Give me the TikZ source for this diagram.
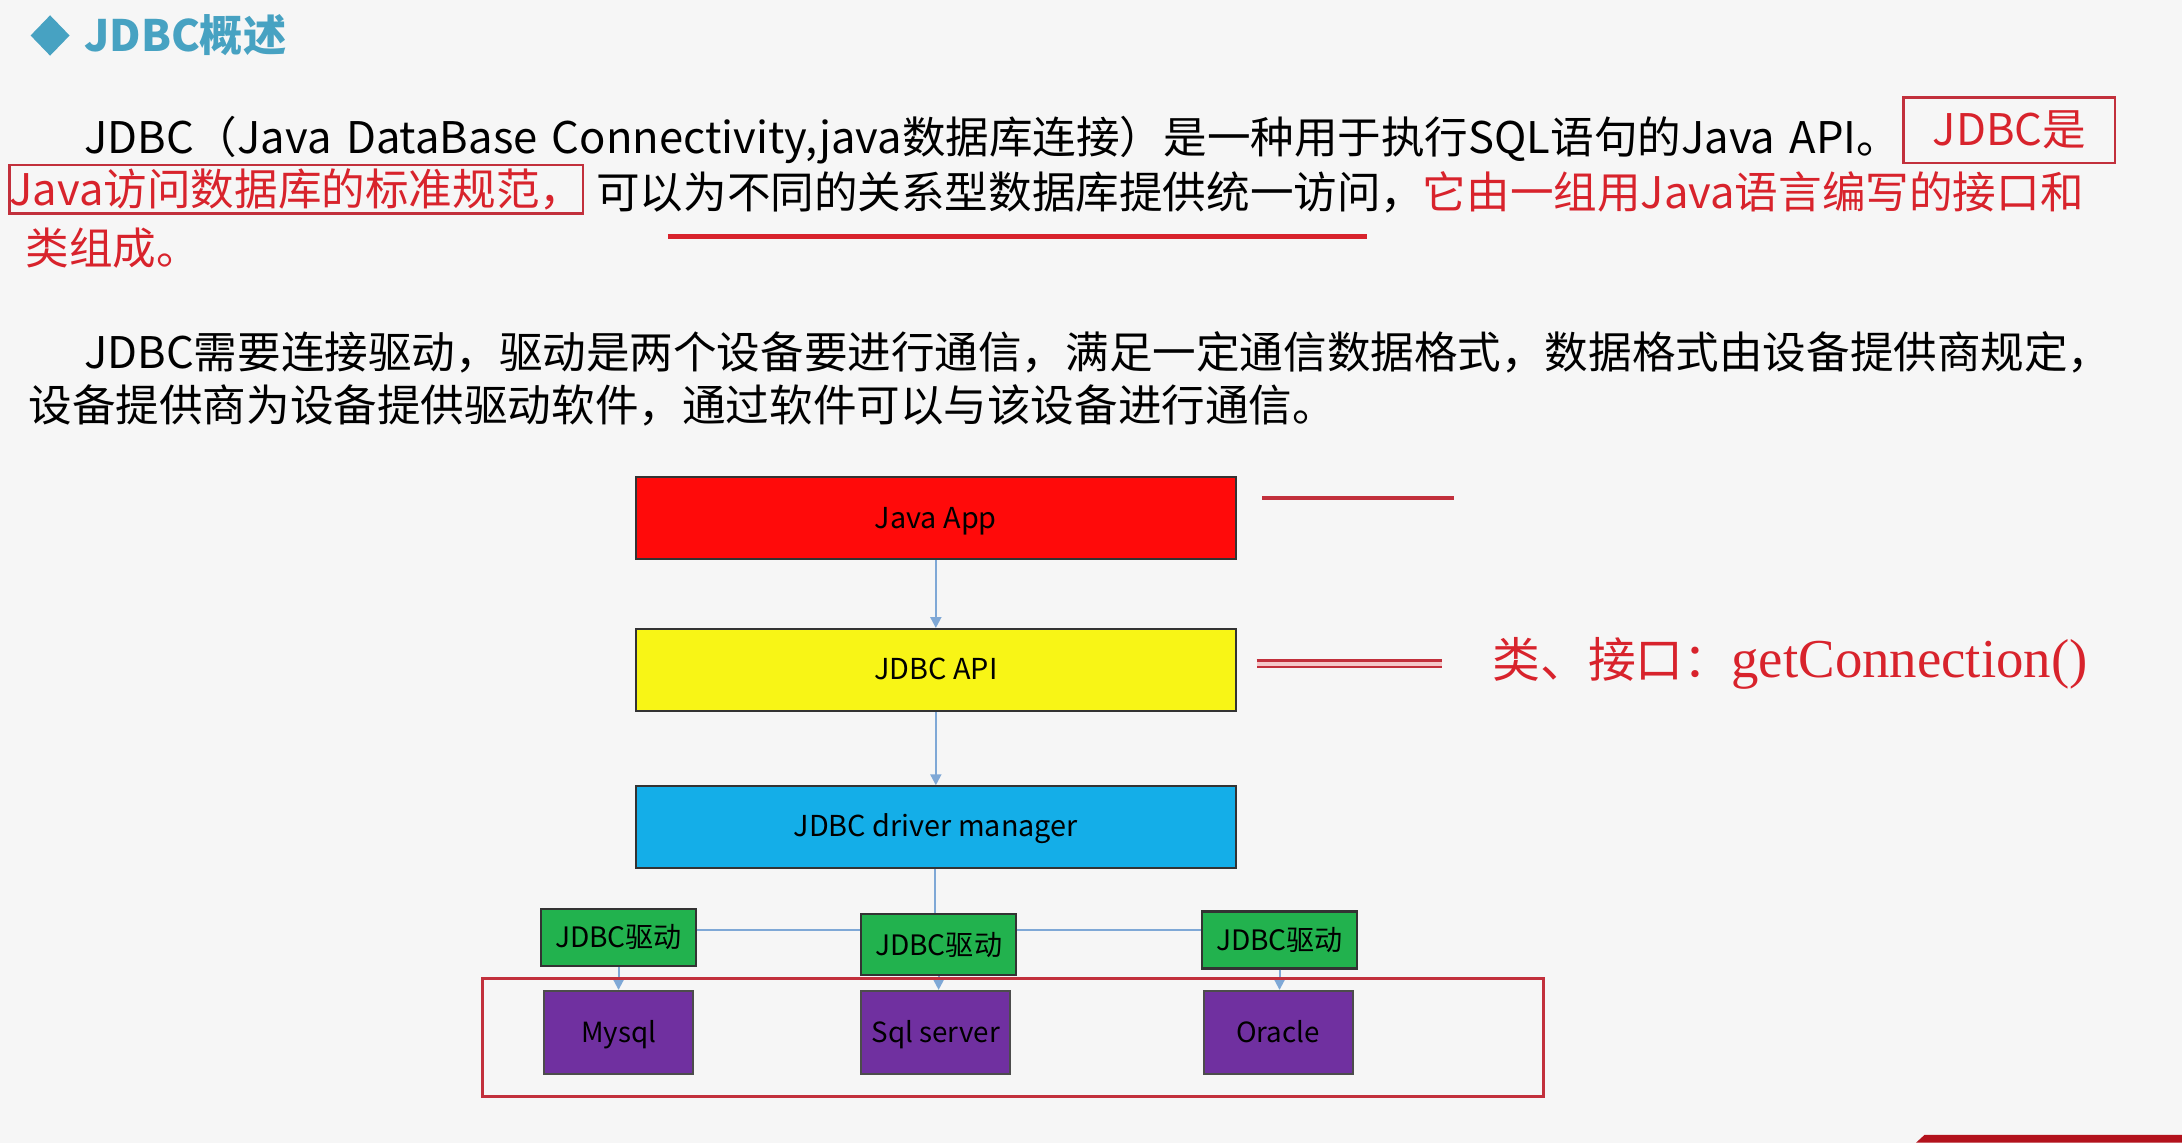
\documentclass[tikz,border=0pt]{standalone}
\usepackage{fontspec}
\newfontfamily\cjk{Noto Sans CJK SC}
\newfontfamily\serifen{Liberation Serif}
\usetikzlibrary{arrows.meta,calc}

\definecolor{slidebg}{HTML}{F6F6F6}
\definecolor{titleblue}{HTML}{47A2C2}
\definecolor{notered}{HTML}{D8232C}
\definecolor{boxred}{HTML}{C2303C}
\definecolor{appred}{HTML}{FF0A0A}
\definecolor{apiyellow}{HTML}{F8F516}
\definecolor{mgrcyan}{HTML}{14AEE8}
\definecolor{drvgreen}{HTML}{22B24E}
\definecolor{dbpurple}{HTML}{7030A0}
\definecolor{linkblue}{HTML}{7FA8D6}
\definecolor{barred}{HTML}{B3121C}

\begin{document}
\begin{tikzpicture}[x=0.013916cm, y=-0.013916cm,
  para/.style={anchor=west, inner sep=0pt, font=\cjk\fontsize{12.4}{14}\selectfont},
  redtext/.style={para, text=notered},
  markbox/.style={draw=boxred, line width=0.7pt, text=notered, inner sep=0pt,
    font=\cjk\fontsize{12.4}{14}\selectfont},
  layer/.style={draw=black!80, line width=0.6pt, minimum width=6cm, minimum height=0.82cm,
    inner sep=0pt, text height=0.8em, text depth=0.25em, font=\cjk\fontsize{8.2}{10}\selectfont},
  drvbox/.style={draw=black!80, line width=0.6pt, fill=drvgreen, minimum width=1.545cm,
    minimum height=0.57cm, inner sep=0pt, font=\cjk\fontsize{8}{10}\selectfont},
  dbbox/.style={draw=black!70, line width=0.5pt, fill=dbpurple, minimum width=1.49cm,
    minimum height=0.835cm, inner sep=0pt, text height=0.8em, text depth=0.25em,
    font=\cjk\fontsize{7.9}{10}\selectfont},
  link/.style={draw=linkblue, line width=0.6pt},
  flow/.style={link, -{Triangle[length=1.1mm, width=1.1mm]}},
  hint/.style={draw=boxred, line width=1.1pt}]
  %
  \useasboundingbox (0,0) rectangle (1568,821);
  \fill[slidebg] (0,0) rectangle (1568,821);
  \fill[barred] (1377,821) -- (1383,815.5) -- (1568,815.5) -- (1568,821) -- cycle;
  %
  % title
  \fill[titleblue] (36,11) -- (50,25.5) -- (36,40) -- (22,25.5) -- cycle;
  \node[anchor=west, inner sep=0pt, text=titleblue, font=\cjk\bfseries\fontsize{12.3}{14}\selectfont]
    (title) at (60,25) {JDBC概述};
  %
  % first paragraph
  \node[para] (p1a) at (60,101)
    {\makebox[18.16cm][s]{JDBC（Java DataBase Connectivity,java数据库连接）是一种用于执行SQL语句的Java API。}};
  \node[markbox, minimum width=2.115cm, minimum height=0.654cm] (std1) at (1444,93.5) {JDBC是};
  \node[markbox, minimum width=5.71cm, minimum height=0.487cm] (std2) at (213,136)
    {Java访问数据库的标准规范，};
  \node[para] (p1b) at (428,138) {可以为不同的关系型数据库提供统一访问，};
  \node[redtext] (p1c) at (1022,138) {它由一组用Java语言编写的接口和};
  \node[redtext] (p1d) at (18,178) {类组成。};
  \draw[draw=notered, line width=1.6pt] (480,170) -- (982,170);
  %
  % second paragraph
  \node[para] (p2a) at (60,253)
    {JDBC需要连接驱动，驱动是两个设备要进行通信，满足一定通信数据格式，数据格式由设备提供商规定，};
  \node[para] (p2b) at (20,291) {设备提供商为设备提供驱动软件，通过软件可以与该设备进行通信。};
  %
  % layers
  \node[layer, fill=appred] (app) at (672.5,372.5) {Java App};
  \node[layer, fill=apiyellow] (api) at (672.5,481.5) {JDBC API};
  \node[layer, fill=mgrcyan] (mgr) at (672.5,594.5) {JDBC driver manager};
  %
  \node[drvbox] (drvL) at (444.5,673.5) {JDBC驱动};
  \node[drvbox, minimum height=0.61cm] (drvM) at (674.5,679) {JDBC驱动};
  \node[drvbox] (drvR) at (919.5,675.5) {JDBC驱动};
  %
  \node[dbbox] (mysql) at (444.5,742) {Mysql};
  \node[dbbox] (sqlsrv) at (672.5,742) {Sql server};
  \node[dbbox] (oracle) at (918.5,742) {Oracle};
  %
  \coordinate (bus) at (672,668);
  \draw[flow] (app) -- (api);
  \draw[flow] (api) -- (mgr);
  \draw[link] (mgr.south -| bus) -- (drvM.north -| bus);
  \draw[link] (drvL.east |- bus) -- (drvM.west |- bus);
  \draw[link] (drvM.east |- bus) -- (drvR.west |- bus);
  \draw[flow] (drvL) -- (mysql);
  \draw[flow] (drvM.south) -- (drvM.south |- sqlsrv.north);
  \draw[flow] (drvR.south) -- (drvR.south |- oracle.north);
  %
  \draw[draw=boxred, line width=0.9pt] (347,703) rectangle (1109,788);
  %
  % notes on the right
  \coordinate (n1) at (907,358);
  \coordinate (n2) at (903,477);
  \draw[hint] (n1) -- ++(138,0);
  \draw[hint, line width=0.7pt, double=notered!25, double distance=1.2pt] (n2) -- ++(133,0);
  \node[anchor=west, inner sep=0pt, text=notered] (api note) at (1072,477)
    {{\cjk\fontsize{13.6}{15}\selectfont 类、接口：}{\serifen\fontsize{15.6}{17}\selectfont getConnection()}};
  %
\end{tikzpicture}
\end{document}
